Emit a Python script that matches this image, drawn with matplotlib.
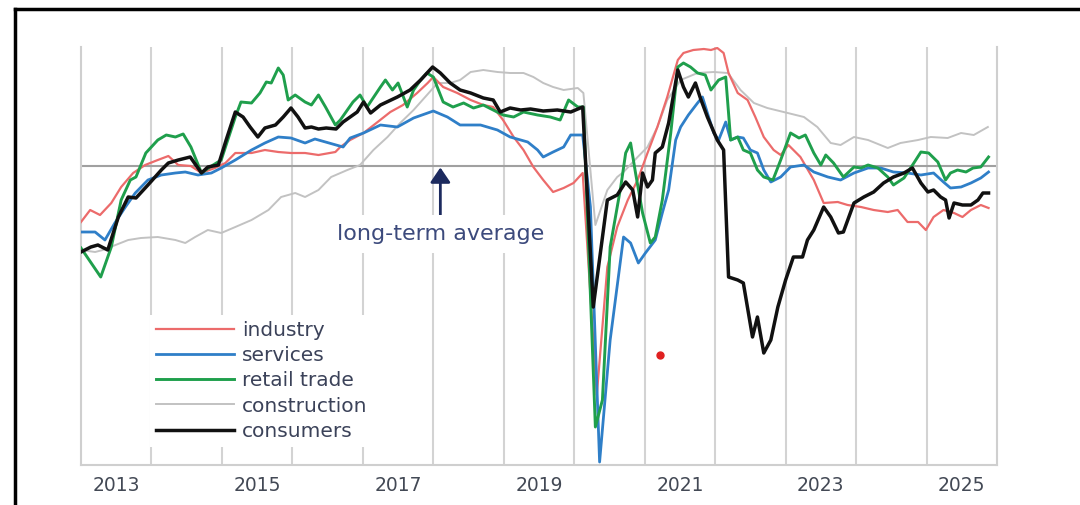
# Business and consumer confidence indicators vs long-term average

import matplotlib
matplotlib.use('Agg')
from matplotlib import pyplot as plt
from matplotlib.lines import Line2D

# dates as fractional years, values relative to the long-term average
industry_t = [2013.00, 2013.13, 2013.27, 2013.43, 2013.57, 2013.74, 2013.91, 2014.09, 2014.24, 2014.38,
              2014.56, 2014.71, 2014.90, 2015.05, 2015.19, 2015.42, 2015.61, 2015.80, 2015.98, 2016.18,
              2016.37, 2016.61, 2016.68, 2016.82, 2017.01, 2017.21, 2017.39, 2017.57, 2017.77, 2017.92,
              2018.00, 2018.14, 2018.34, 2018.53, 2018.71, 2018.85, 2018.99, 2019.14, 2019.28, 2019.42,
              2019.56, 2019.70, 2019.85, 2019.99, 2020.12, 2020.32, 2020.47, 2020.61, 2020.76, 2020.90,
              2021.04, 2021.18, 2021.32, 2021.47, 2021.55, 2021.69, 2021.84, 2021.94, 2022.03, 2022.12,
              2022.19, 2022.32, 2022.46, 2022.57, 2022.69, 2022.83, 2022.93, 2023.04, 2023.21, 2023.40,
              2023.54, 2023.74, 2023.88, 2024.07, 2024.25, 2024.45, 2024.59, 2024.73, 2024.88, 2024.99,
              2025.10, 2025.24, 2025.39, 2025.51, 2025.63, 2025.77, 2025.88]
industry_v = [-5.6, -4.4, -4.9, -3.7, -2.1, -0.7, 0.1, 0.6, 1.0, 0.1,
              0.0, -0.7, -0.2, 0.3, 1.3, 1.3, 1.6, 1.4, 1.3, 1.3,
              1.1, 1.4, 1.9, 2.6, 3.3, 4.4, 5.4, 6.1, 7.3, 8.3,
              8.9, 7.9, 7.3, 6.6, 6.1, 5.9, 4.6, 2.9, 1.6, -0.1,
              -1.4, -2.6, -2.2, -1.7, -0.7, -22.9, -10.1, -6.1, -3.4, -1.4,
              1.3, 3.9, 6.9, 10.6, 11.3, 11.6, 11.7, 11.6, 11.8, 11.3,
              9.3, 7.3, 6.6, 4.9, 2.9, 1.6, 1.1, 2.1, 0.9, -1.4,
              -3.7, -3.6, -3.9, -4.1, -4.4, -4.6, -4.4, -5.6, -5.6, -6.4,
              -5.1, -4.4, -4.7, -5.1, -4.4, -3.9, -4.2]

services_t = [2013.00, 2013.20, 2013.34, 2013.48, 2013.63, 2013.77, 2013.95, 2014.14, 2014.34, 2014.48,
              2014.66, 2014.85, 2014.99, 2015.19, 2015.42, 2015.61, 2015.80, 2015.98, 2016.18, 2016.32,
              2016.47, 2016.62, 2016.72, 2016.82, 2017.01, 2017.25, 2017.49, 2017.72, 2018.00, 2018.20,
              2018.38, 2018.67, 2018.91, 2019.09, 2019.34, 2019.48, 2019.56, 2019.70, 2019.85, 2019.95,
              2020.12, 2020.23, 2020.36, 2020.51, 2020.70, 2020.80, 2020.91, 2021.01, 2021.15, 2021.25,
              2021.34, 2021.44, 2021.51, 2021.62, 2021.75, 2021.82, 2021.89, 2021.98, 2022.05, 2022.15,
              2022.22, 2022.32, 2022.40, 2022.50, 2022.60, 2022.69, 2022.79, 2022.93, 2023.07, 2023.26,
              2023.40, 2023.60, 2023.78, 2023.97, 2024.17, 2024.35, 2024.53, 2024.73, 2024.92, 2025.10,
              2025.24, 2025.34, 2025.49, 2025.63, 2025.77, 2025.88]
services_v = [-6.6, -6.6, -7.4, -5.7, -4.1, -2.7, -1.4, -0.9, -0.7, -0.6,
              -0.9, -0.7, -0.2, 0.6, 1.6, 2.3, 2.9, 2.8, 2.3, 2.7,
              2.4, 2.1, 1.9, 2.8, 3.3, 4.1, 3.9, 4.8, 5.5, 4.9,
              4.1, 4.1, 3.6, 2.9, 2.4, 1.6, 0.9, 1.4, 1.9, 3.1,
              3.1, -4.1, -29.6, -17.4, -7.1, -7.7, -9.7, -8.7, -7.4, -4.7,
              -2.4, 2.6, 3.9, 5.1, 6.3, 6.9, 5.3, 3.3, 2.6, 4.4,
              2.6, 2.9, 2.8, 1.6, 1.3, -0.4, -1.6, -1.1, -0.1, 0.1,
              -0.6, -1.1, -1.4, -0.7, -0.2, -0.2, -0.6, -0.7, -0.9, -0.7,
              -1.6, -2.2, -2.1, -1.7, -1.2, -0.6]

retail_t = [2013.00, 2013.28, 2013.43, 2013.57, 2013.70, 2013.78, 2013.92, 2014.09, 2014.21, 2014.34,
            2014.45, 2014.56, 2014.71, 2014.83, 2014.99, 2015.19, 2015.27, 2015.42, 2015.54, 2015.63,
            2015.70, 2015.80, 2015.87, 2015.94, 2016.04, 2016.18, 2016.27, 2016.37, 2016.47, 2016.61,
            2016.68, 2016.86, 2016.96, 2017.06, 2017.25, 2017.32, 2017.42, 2017.50, 2017.63, 2017.72,
            2017.82, 2017.91, 2018.00, 2018.14, 2018.28, 2018.43, 2018.57, 2018.71, 2018.85, 2018.99,
            2019.14, 2019.28, 2019.48, 2019.66, 2019.80, 2019.92, 2020.05, 2020.13, 2020.30, 2020.40,
            2020.51, 2020.66, 2020.73, 2020.80, 2020.87, 2020.97, 2021.08, 2021.15, 2021.25, 2021.37,
            2021.47, 2021.55, 2021.65, 2021.75, 2021.86, 2021.94, 2022.05, 2022.15, 2022.22, 2022.32,
            2022.40, 2022.50, 2022.60, 2022.69, 2022.82, 2022.93, 2023.07, 2023.19, 2023.28, 2023.40,
            2023.50, 2023.57, 2023.68, 2023.82, 2023.97, 2024.07, 2024.17, 2024.31, 2024.45, 2024.53,
            2024.68, 2024.82, 2024.92, 2025.03, 2025.16, 2025.27, 2025.34, 2025.44, 2025.56, 2025.66,
            2025.77, 2025.88]
retail_v = [-8.2, -11.1, -8.1, -3.4, -1.4, -1.1, 1.3, 2.6, 3.1, 2.9,
            3.2, 1.9, -0.7, -0.1, 0.6, 4.9, 6.4, 6.3, 7.3, 8.4,
            8.3, 9.8, 9.1, 6.6, 7.1, 6.4, 6.1, 7.1, 5.9, 4.1,
            4.6, 6.4, 7.1, 5.9, 7.9, 8.6, 7.6, 8.3, 5.9, 7.6,
            8.6, 9.3, 8.9, 6.4, 5.9, 6.3, 5.8, 6.1, 5.6, 5.1,
            4.9, 5.4, 5.1, 4.9, 4.6, 6.6, 5.9, 5.9, -26.1, -23.4,
            -8.1, -2.1, 1.3, 2.3, -0.7, -4.7, -7.7, -7.1, -3.4, 3.3,
            9.9, 10.3, 9.9, 9.3, 9.1, 7.6, 8.6, 8.9, 2.6, 2.9,
            1.6, 1.3, -0.4, -1.1, -1.4, 0.6, 3.3, 2.8, 3.1, 1.3,
            0.1, 1.1, 0.3, -1.1, -0.1, -0.2, 0.1, -0.2, -1.1, -1.9,
            -1.2, 0.3, 1.4, 1.3, 0.4, -1.4, -0.7, -0.4, -0.6, -0.2,
            -0.1, 0.9]

construction_t = [2013.00, 2013.20, 2013.31, 2013.67, 2013.85, 2014.09, 2014.34, 2014.48, 2014.62, 2014.80,
                  2014.99, 2015.19, 2015.42, 2015.66, 2015.84, 2016.04, 2016.18, 2016.37, 2016.55, 2016.78,
                  2016.96, 2017.15, 2017.35, 2017.53, 2017.72, 2017.91, 2018.06, 2018.24, 2018.38, 2018.53,
                  2018.71, 2018.91, 2019.09, 2019.28, 2019.42, 2019.56, 2019.70, 2019.85, 2020.05, 2020.13,
                  2020.30, 2020.47, 2020.61, 2020.70, 2020.90, 2021.04, 2021.18, 2021.32, 2021.51, 2021.75,
                  2021.98, 2022.18, 2022.36, 2022.55, 2022.74, 2023.03, 2023.26, 2023.45, 2023.64, 2023.78,
                  2023.97, 2024.17, 2024.45, 2024.63, 2024.88, 2025.06, 2025.30, 2025.49, 2025.67, 2025.87]
construction_v = [-8.4, -8.6, -8.4, -7.4, -7.2, -7.1, -7.4, -7.7, -7.1, -6.4,
                  -6.7, -6.1, -5.4, -4.4, -3.1, -2.7, -3.1, -2.4, -1.1, -0.4,
                  0.1, 1.6, 2.9, 4.3, 5.6, 7.1, 8.3, 8.3, 8.6, 9.4,
                  9.6, 9.4, 9.3, 9.3, 8.9, 8.3, 7.9, 7.6, 7.8, 7.3,
                  -5.9, -2.4, -1.1, -0.6, 0.9, 1.9, 3.9, 6.6, 8.6, 9.3,
                  9.4, 9.3, 7.6, 6.3, 5.8, 5.3, 4.9, 3.9, 2.3, 2.1,
                  2.9, 2.6, 1.8, 2.3, 2.6, 2.9, 2.8, 3.3, 3.1, 3.9]

consumers_t = [2013.00, 2013.14, 2013.24, 2013.38, 2013.53, 2013.67, 2013.78, 2013.95, 2014.14, 2014.24,
               2014.38, 2014.55, 2014.71, 2014.80, 2014.95, 2015.06, 2015.19, 2015.30, 2015.40, 2015.51,
               2015.61, 2015.76, 2015.87, 2015.98, 2016.08, 2016.18, 2016.27, 2016.37, 2016.48, 2016.62,
               2016.72, 2016.92, 2017.01, 2017.11, 2017.25, 2017.49, 2017.67, 2017.82, 2017.99, 2018.10,
               2018.24, 2018.38, 2018.53, 2018.71, 2018.85, 2018.95, 2019.09, 2019.24, 2019.38, 2019.56,
               2019.76, 2019.95, 2020.12, 2020.27, 2020.47, 2020.61, 2020.73, 2020.83, 2020.90, 2020.97,
               2021.04, 2021.11, 2021.15, 2021.25, 2021.34, 2021.47, 2021.55, 2021.62, 2021.72, 2021.79,
               2021.89, 2022.03, 2022.12, 2022.19, 2022.32, 2022.40, 2022.53, 2022.60, 2022.69, 2022.79,
               2022.89, 2023.00, 2023.11, 2023.24, 2023.31, 2023.40, 2023.54, 2023.64, 2023.75, 2023.82,
               2023.97, 2024.11, 2024.25, 2024.39, 2024.53, 2024.68, 2024.80, 2024.92, 2025.02, 2025.10,
               2025.20, 2025.27, 2025.32, 2025.39, 2025.51, 2025.63, 2025.73, 2025.80, 2025.88]
consumers_v = [-8.6, -8.1, -7.9, -8.4, -5.1, -3.1, -3.2, -1.9, -0.4, 0.3,
               0.6, 0.9, -0.7, -0.1, 0.1, 2.6, 5.4, 4.9, 3.9, 2.9,
               3.8, 4.1, 4.9, 5.8, 4.9, 3.8, 3.9, 3.7, 3.8, 3.7,
               4.4, 5.4, 6.4, 5.3, 6.1, 6.9, 7.6, 8.6, 9.9, 9.3,
               8.3, 7.6, 7.3, 6.8, 6.6, 5.4, 5.8, 5.6, 5.7, 5.5,
               5.6, 5.4, 5.9, -14.1, -3.4, -2.9, -1.6, -2.4, -5.1, -0.7,
               -2.1, -1.4, 1.3, 1.9, 4.3, 9.6, 7.9, 6.9, 8.3, 6.8,
               4.9, 2.6, 1.6, -11.1, -11.4, -11.7, -17.1, -15.1, -18.7, -17.4,
               -14.1, -11.4, -9.1, -9.1, -7.4, -6.4, -4.1, -5.1, -6.7, -6.6,
               -3.7, -3.1, -2.6, -1.7, -1.1, -0.7, -0.2, -1.7, -2.6, -2.4,
               -3.1, -3.4, -5.2, -3.7, -3.9, -3.9, -3.4, -2.7, -2.7]

# stray red mark in the picture
dot_t = [2021.22]
dot_v = [-18.9]

year_labels = [2013, 2015, 2017, 2019, 2021, 2023, 2025]

series = [
    ('construction', construction_t, construction_v, '#c2c2c2', 1.4),
    ('industry', industry_t, industry_v, '#ec6b6b', 1.6),
    ('services', services_t, services_v, '#2f7fc8', 2.0),
    ('retail trade', retail_t, retail_v, '#1f9f4c', 2.1),
    ('consumers', consumers_t, consumers_v, '#111111', 2.5),
]
legend_order = ['industry', 'services', 'retail trade', 'construction', 'consumers']

plt.rcParams['font.family'] = ['DejaVu Sans']

fig = plt.figure(figsize=(10.8, 5.05), dpi=100)
ax = fig.add_axes([81 / 1080, 1 - 465 / 505, 916 / 1080, 418 / 505])

handles = {}
for i, (name, t, v, col, lw) in enumerate(series):
    ln, = ax.plot(t, v, color=col, lw=lw, zorder=3 + i, solid_joinstyle='round')
    handles[name] = ln

ax.plot(dot_t, dot_v, 'o', color='#e02020', ms=5, zorder=9)

ax.axhline(0, color='#a0a0a0', lw=1.5, zorder=2)

ax.set_xlim(2013, 2026)
ax.set_ylim(-29.9, 11.9)

ax.set_xticks(range(2014, 2026), minor=True)
ax.grid(which='minor', axis='x', color='#d3d3d3', lw=1.5, zorder=1)
ax.set_xticks([y + 0.5 for y in year_labels])
ax.set_xticklabels([str(y) for y in year_labels])
ax.tick_params(axis='x', which='both', length=0, pad=8, labelsize=13.5, labelcolor='#434955')
ax.set_yticks([])

for s in ['left', 'right', 'bottom']:
    ax.spines[s].set_color('#cfcfcf')
    ax.spines[s].set_linewidth(1.5)
ax.spines['top'].set_visible(False)

ax.annotate('long-term average', xy=(2018.1, -0.15), xytext=(2018.1, -6.8),
            ha='center', va='center', fontsize=16, color='#3c4a7c',
            bbox=dict(boxstyle='square,pad=0.42', fc='white', ec='none'),
            arrowprops=dict(arrowstyle='-|>,head_width=0.38,head_length=0.56',
                            color='#1c2a5e', lw=2, shrinkA=0, shrinkB=0),
            zorder=10)

leg = ax.legend([handles[n] for n in legend_order], legend_order,
                loc='upper left', bbox_to_anchor=(0.075, 0.358), borderaxespad=0,
                fontsize=14.5, handlelength=3.9, handletextpad=0.4, labelspacing=0.3,
                frameon=True, fancybox=False, framealpha=1, borderpad=0.3)
leg.get_frame().set_edgecolor('none')
leg.set_zorder(10)
for txt in leg.get_texts():
    txt.set_color('#3b4259')

# outer frame of the picture
fig.add_artist(Line2D([15 / 1080, 1], [1 - 9 / 505, 1 - 9 / 505], color='black', lw=2.5))
fig.add_artist(Line2D([15 / 1080, 15 / 1080], [0, 1 - 9 / 505], color='black', lw=2.5))

fig.savefig('out.png', dpi=100, facecolor='white')
